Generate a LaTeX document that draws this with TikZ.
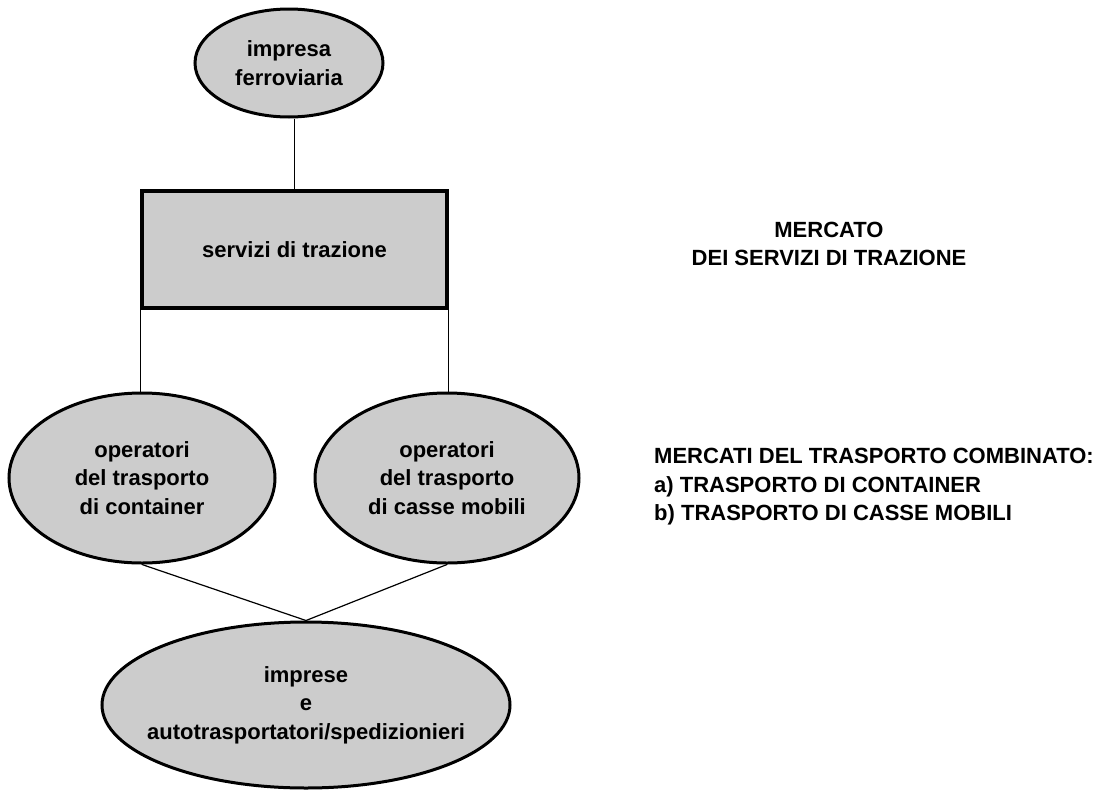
\documentclass[tikz,border=0pt]{standalone}
\usepackage{fontspec}
\setmainfont{Liberation Sans}
\usetikzlibrary{shapes.geometric}
\begin{document}
\begin{tikzpicture}[x=1pt,y=-1pt,
  ell/.style={ellipse,draw=black,line width=3pt,fill=black!20,inner sep=0pt},
  boxnode/.style={rectangle,draw=black,line width=3.5pt,fill=black!20,inner sep=0pt},
  lbl/.style={align=center,font=\bfseries\fontsize{22}{28.5}\selectfont,inner sep=0pt},
  lbll/.style={align=left,font=\bfseries\fontsize{22}{28.5}\selectfont,inner sep=0pt},
  conn/.style={draw=black,line width=1.2pt}]
\useasboundingbox (0,0) rectangle (1103,790);
% shapes
\node[ell,minimum width=188pt,minimum height=108pt] (top) at (289,63) {};
\node[lbl] (toptxt) at (top) {impresa\\ferroviaria};
\node[boxnode,minimum width=305pt,minimum height=117pt] (serv) at (294.5,249.5) {};
\node[lbl] (servtxt) at (serv) {servizi di trazione};
\node[ell,minimum width=266pt,minimum height=170pt] (left) at (142,478) {};
\node[lbl] (lefttxt) at (left) {operatori\\del trasporto\\di container};
\node[ell,minimum width=264pt,minimum height=170pt] (right) at (447,478) {};
\node[lbl] (righttxt) at (right) {operatori\\del trasporto\\di casse mobili};
\node[ell,minimum width=408pt,minimum height=166pt] (bot) at (306,705) {};
\node[lbl] (bottxt) at (bot) {imprese\\e\\autotrasportatori/spedizionieri};
% connectors
\draw[conn] (serv.north |- top.south) -- (serv.north);
\draw[conn] (serv.south west) -- (serv.south west |- left.north);
\draw[conn] (serv.south east) -- (serv.south east |- right.north);
\draw[conn] (left.south) -- (bot.north);
\draw[conn] (right.south) -- (bot.north);
% right-side texts
\node[lbl] (mercato) at (829,244) {MERCATO\\DEI SERVIZI DI TRAZIONE};
\node[lbll,anchor=west] (mercati) at (654,487) {MERCATI DEL TRASPORTO COMBINATO:\\a) TRASPORTO DI CONTAINER\\b) TRASPORTO DI CASSE MOBILI};
\end{tikzpicture}
\end{document}
